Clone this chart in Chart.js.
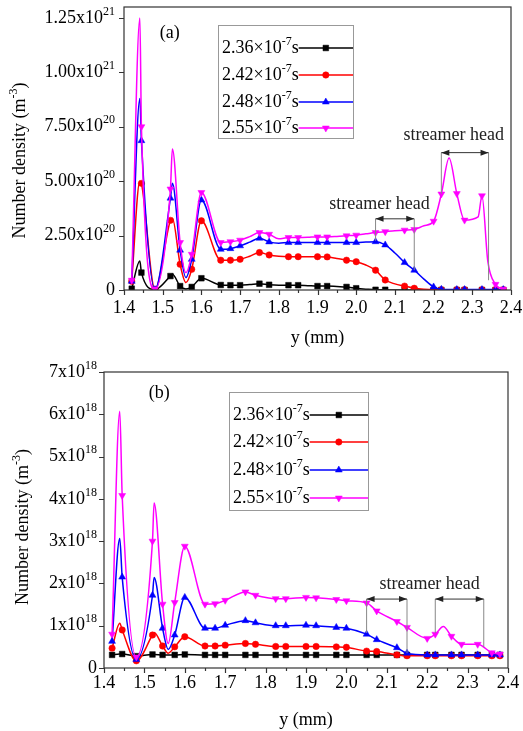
<!DOCTYPE html>
<html><head><meta charset="utf-8">
<script src="https://cdn.jsdelivr.net/npm/chart.js@4.4.1/dist/chart.umd.min.js"></script>
<style>
html,body{margin:0;padding:0;background:#fff;}
canvas{position:absolute;left:0;}
#ca{top:0;}
#cb{top:355px;}
</style></head><body>
<canvas id="ca" width="523" height="352"></canvas>
<canvas id="cb" width="523" height="376"></canvas>
<script>
// ---------------- DATA ----------------
const seriesNames = ['2.36×10^{-7}s','2.42×10^{-7}s','2.48×10^{-7}s','2.55×10^{-7}s'];
const xTicks = [1.4,1.5,1.6,1.7,1.8,1.9,2.0,2.1,2.2,2.3,2.4];
const xTitle = 'y (mm)';
const yTitle = 'Number density (m^{-3})';

// Panel (a): number density in units of 1e20 m^-3
const xA = [1.42,1.441,1.445,1.48,1.52,1.525,1.545,1.56,1.575,1.60,1.65,1.675,1.70,1.725,1.75,1.775,1.80,1.825,1.85,1.875,1.90,1.925,1.95,1.975,2.00,2.025,2.05,2.075,2.10,2.125,2.15,2.175,2.20,2.22,2.24,2.26,2.28,2.315,2.325,2.34,2.36,2.38];
const markA = [1,0,1,1,1,0,1,0,1,1,1,1,1,0,1,1,0,1,1,0,1,1,0,1,1,0,1,1,0,1,1,0,1,1,0,1,1,0,1,0,1,1];
const a236 = [0.06,1.33,0.80,0.02,0.64,0.72,0.18,0.05,0.14,0.54,0.23,0.22,0.22,0.25,0.29,0.24,0.22,0.22,0.22,0.20,0.18,0.18,0.16,0.14,0.08,0.04,0.01,0.01,0,0,0,0,0,0,0,0,0,0,0,0,0,0];
const a242 = [0.40,5.0,4.9,0.02,3.20,3.3,1.18,0.34,0.95,3.18,1.37,1.37,1.41,1.55,1.72,1.61,1.55,1.53,1.53,1.53,1.53,1.52,1.45,1.37,1.30,1.15,0.91,0.46,0.28,0.18,0.08,0.03,0.01,0.01,0.01,0.01,0.01,0.01,0.01,0.01,0.01,0.01];
const a248 = [0.40,8.8,6.86,0.02,4.22,4.9,1.83,0.57,1.41,4.13,1.87,1.90,2.03,2.2,2.38,2.21,2.15,2.18,2.18,2.18,2.18,2.18,2.18,2.18,2.18,2.2,2.22,2.07,1.7,1.26,0.91,0.5,0.14,0.03,0.02,0.02,0.02,0.02,0.02,0.02,0.02,0.02];
const a255 = [0.45,12.5,7.5,0.05,4.64,6.48,2.18,0.8,1.64,4.48,2.18,2.22,2.29,2.45,2.64,2.56,2.35,2.41,2.41,2.42,2.44,2.44,2.46,2.49,2.52,2.58,2.64,2.68,2.72,2.75,2.78,2.95,3.16,4.41,6.06,4.43,3.21,3.36,4.33,1.33,0.26,0.03];
const yTicksA = [0,2.5,5,7.5,10,12.5];
const yTickLabelsA = ['0','2.50x10^{20}','5.00x10^{20}','7.50x10^{20}','1.00x10^{21}','1.25x10^{21}'];

// Panel (b): number density in units of 1e18 m^-3
const xB = [1.42,1.439,1.445,1.48,1.52,1.524,1.545,1.559,1.575,1.60,1.65,1.675,1.70,1.75,1.775,1.825,1.85,1.90,1.925,1.975,2.00,2.05,2.075,2.125,2.15,2.20,2.22,2.24,2.26,2.285,2.325,2.36,2.38];
const markB = [1,0,1,1,1,0,1,0,1,1,1,1,1,1,1,1,1,1,1,1,1,1,1,1,1,1,1,0,1,1,1,1,1];
const b236 = [0.31,0.33,0.33,0.28,0.32,0.32,0.31,0.31,0.31,0.32,0.31,0.31,0.31,0.31,0.31,0.31,0.31,0.31,0.31,0.31,0.31,0.31,0.31,0.31,0.31,0.31,0.31,0.31,0.31,0.31,0.31,0.31,0.31];
const b242 = [0.47,1.06,0.90,0.17,0.78,0.84,0.52,0.35,0.50,0.74,0.52,0.52,0.54,0.58,0.56,0.51,0.51,0.51,0.51,0.50,0.49,0.40,0.39,0.31,0.29,0.29,0.29,0.29,0.29,0.29,0.29,0.29,0.29];
const b248 = [0.63,3.06,2.15,0.2,1.72,2.14,0.94,0.44,0.78,1.67,0.94,0.94,1.01,1.12,1.07,1.0,1.0,1.01,1.0,0.96,0.94,0.80,0.67,0.48,0.35,0.31,0.31,0.31,0.31,0.31,0.31,0.31,0.31];
const b255 = [0.8,6.07,4.08,0.26,3.0,3.9,1.51,0.58,1.55,2.88,1.51,1.52,1.6,1.8,1.72,1.64,1.64,1.67,1.66,1.62,1.59,1.54,1.35,1.1,0.96,0.7,0.8,0.98,0.75,0.56,0.56,0.36,0.33];
const yTicksB = [0,1,2,3,4,5,6,7];
const yTickLabelsB = ['0','1x10^{18}','2x10^{18}','3x10^{18}','4x10^{18}','5x10^{18}','6x10^{18}','7x10^{18}'];

const annotA = [
  {x0:2.05, x1:2.15, y:3.27, d0:2.26, d1:0.91, label:'streamer head', lx:2.06, ly:3.96},
  {x0:2.22, x1:2.342, y:6.31, d0:4.42, d1:0.45, label:'streamer head', lx:2.252, ly:7.09}
];
const annotB = [
  {x0:2.05, x1:2.15, y:1.63, d0:0.83, d1:0.35, label:'streamer head', lx:2.206, ly:1.98},
  {x0:2.22, x1:2.34, y:1.63, d0:0.83, d1:0.5, label:null}
];

// ---------------- STYLE ----------------
const FONT = '"Liberation Serif","Times New Roman","DejaVu Serif",serif';
const FS = 18;
const colors = ['#000000','#ff0000','#0000ff','#ff00ff'];
const pStyles = ['rect','circle','triangle','triangle'];
const pRot = [0,0,0,180];
const pRad = [4,3.2,4,4];

function richParts(s) {
  const parts = []; const re = /\^\{([^}]*)\}/g; let last = 0, m;
  while ((m = re.exec(s))) {
    if (m.index > last) parts.push({t: s.slice(last, m.index), sup: false});
    parts.push({t: m[1], sup: true}); last = re.lastIndex;
  }
  if (last < s.length) parts.push({t: s.slice(last), sup: false});
  return parts;
}
function drawRich(ctx, s, x, y, align, size) {
  const parts = richParts(s);
  const ss = Math.round(size * 0.65);
  const widths = parts.map(p => { ctx.font = (p.sup ? ss : size) + 'px ' + FONT; return ctx.measureText(p.t).width; });
  const total = widths.reduce((a, b) => a + b, 0);
  let cx = align === 'right' ? x - total : (align === 'center' ? x - total / 2 : x);
  ctx.textAlign = 'left'; ctx.textBaseline = 'middle';
  parts.forEach((p, i) => {
    ctx.font = (p.sup ? ss : size) + 'px ' + FONT;
    ctx.fillText(p.t, cx, p.sup ? y - size * 0.36 : y);
    cx += widths[i];
  });
  return total;
}

function makeDatasets(xs, series, mask) {
  return series.map((vals,i)=>({
    label: seriesNames[i],
    data: xs.map((x,j)=>({x:x, y:vals[j]})),
    borderColor: colors[i],
    backgroundColor: colors[i],
    borderWidth: 1.5,
    pointStyle: pStyles[i],
    rotation: pRot[i],
    pointRadius: mask.map(m=> m ? pRad[i] : 0),
    pointBorderWidth: 0.5,
    pointBackgroundColor: colors[i],
    pointBorderColor: colors[i],
    cubicInterpolationMode: 'monotone',
    order: 4 - i
  }));
}

function makeDeco(L) {
  return {
    id: 'deco',
    afterDatasetsDraw(chart) {
      const ctx = chart.ctx, ca = chart.chartArea, x = chart.scales.x, y = chart.scales.y;
      ctx.save();
      // frame
      ctx.strokeStyle = '#333'; ctx.lineWidth = 1.2;
      ctx.strokeRect(ca.left, ca.top, ca.right - ca.left, ca.bottom - ca.top);
      // ticks
      ctx.beginPath();
      xTicks.forEach((v,i)=>{
        const px = Math.round(x.getPixelForValue(v))+0.5;
        ctx.moveTo(px, ca.bottom); ctx.lineTo(px, ca.bottom + 5);
        if (i < xTicks.length-1) {
          const pm = Math.round(x.getPixelForValue(v + 0.05))+0.5;
          ctx.moveTo(pm, ca.bottom); ctx.lineTo(pm, ca.bottom + 3);
        }
      });
      L.yTicks.forEach(v=>{
        const py = Math.round(y.getPixelForValue(v))+0.5;
        ctx.moveTo(ca.left - 5, py); ctx.lineTo(ca.left, py);
      });
      ctx.stroke();
      // tick labels
      ctx.fillStyle = '#000';
      ctx.font = FS + 'px ' + FONT; ctx.textAlign = 'center'; ctx.textBaseline = 'middle';
      xTicks.forEach(v=>{ ctx.fillText(v.toFixed(1), x.getPixelForValue(v), ca.bottom + L.xLabDy); });
      L.yTicks.forEach((v,i)=>{ drawRich(ctx, L.yLabels[i], ca.left - L.yLabDx, y.getPixelForValue(v), 'right', FS); });
      // annotations
      ctx.font = FS + 'px ' + FONT;
      L.annot.forEach(a=>{
        const X0 = x.getPixelForValue(a.x0), X1 = x.getPixelForValue(a.x1), Y = y.getPixelForValue(a.y);
        ctx.strokeStyle = '#888'; ctx.lineWidth = 1;
        ctx.beginPath();
        ctx.moveTo(X0, Y); ctx.lineTo(X0, y.getPixelForValue(a.d0));
        ctx.moveTo(X1, Y); ctx.lineTo(X1, y.getPixelForValue(a.d1));
        ctx.stroke();
        ctx.strokeStyle = '#333'; ctx.beginPath();
        ctx.moveTo(X0, Y); ctx.lineTo(X1, Y); ctx.stroke();
        ctx.fillStyle = '#222';
        ctx.beginPath();
        ctx.moveTo(X0, Y); ctx.lineTo(X0 + 8, Y - 3); ctx.lineTo(X0 + 8, Y + 3); ctx.closePath();
        ctx.moveTo(X1, Y); ctx.lineTo(X1 - 8, Y - 3); ctx.lineTo(X1 - 8, Y + 3); ctx.closePath();
        ctx.fill();
        if (a.label) {
          ctx.textAlign = 'center'; ctx.textBaseline = 'middle';
          ctx.fillText(a.label, x.getPixelForValue(a.lx), y.getPixelForValue(a.ly));
        }
      });
      // panel label
      ctx.fillStyle = '#000'; ctx.textAlign = 'center'; ctx.textBaseline = 'middle';
      ctx.fillText(L.panel, x.getPixelForValue(L.panelX), y.getPixelForValue(L.panelY));
      // legend
      const bx0 = ca.left + L.leg.dx0, bx1 = ca.left + L.leg.dx1, by0 = ca.top + L.leg.dy0, by1 = ca.top + L.leg.dy1;
      ctx.fillStyle = '#fff';
      ctx.fillRect(bx0, by0, bx1 - bx0, by1 - by0);
      ctx.strokeStyle = '#999'; ctx.lineWidth = 1;
      ctx.strokeRect(bx0 + 0.5, by0 + 0.5, bx1 - bx0, by1 - by0);
      L.leg.rows.forEach((r,i)=>{
        const ry = ca.top + r, tx = ca.left + L.leg.tx;
        ctx.fillStyle = '#000';
        const tw = drawRich(ctx, seriesNames[i], tx, ry, 'left', FS);
        ctx.strokeStyle = colors[i]; ctx.lineWidth = 1.5;
        ctx.beginPath(); ctx.moveTo(tx + tw, ry); ctx.lineTo(bx1, ry); ctx.stroke();
        ctx.fillStyle = colors[i]; ctx.lineWidth = 0.5;
        Chart.helpers.drawPoint(ctx, {pointStyle: pStyles[i], rotation: pRot[i], radius: pRad[i], borderWidth: 0.5}, (tx + tw + bx1)/2, ry);
      });
      // axis titles
      ctx.fillStyle = '#000';
      ctx.font = FS + 'px ' + FONT; ctx.textAlign = 'center'; ctx.textBaseline = 'middle';
      ctx.fillText(xTitle, (ca.left + ca.right)/2, L.xTitleY);
      ctx.save();
      ctx.translate(L.yTitleX, (ca.top + ca.bottom)/2 + L.yTitleDy);
      ctx.rotate(-Math.PI/2);
      drawRich(ctx, yTitle, 0, 0, 'center', FS);
      ctx.restore();
      ctx.restore();
    }
  };
}

function makeChart(canvasId, xs, series, mask, L) {
  return new Chart(document.getElementById(canvasId), {
    type: 'line',
    data: { datasets: makeDatasets(xs, series, mask) },
    options: {
      responsive: false, animation: false, devicePixelRatio: 1,
      layout: { padding: { left: 0, right: L.padRight, top: L.padTop, bottom: 0 } },
      plugins: { legend: { display: false }, tooltip: { enabled: false } },
      scales: {
        x: {
          type: 'linear', min: 1.4, max: 2.4,
          afterBuildTicks: s => { s.ticks = xTicks.map(v=>({value:v})); },
          afterFit: s => { s.height = L.xHeight; },
          grid: { display: false, drawTicks: false, tickLength: 0 },
          border: { display: false },
          ticks: { display: false }
        },
        y: {
          type: 'linear', min: 0, max: L.yMax,
          afterBuildTicks: s => { s.ticks = L.yTicks.map(v=>({value:v})); },
          afterFit: s => { s.width = L.yWidth; },
          grid: { display: false, drawTicks: false, tickLength: 0 },
          border: { display: false },
          ticks: { display: false }
        }
      }
    },
    plugins: [makeDeco(L)]
  });
}

makeChart('ca', xA, [a236,a242,a248,a255], markA, {
  padRight: 12, padTop: 7, xHeight: 62, yWidth: 124, yMax: 13,
  yTicks: yTicksA, yLabels: yTickLabelsA, xLabDy: 18, yLabDx: 9,
  annot: annotA, panel: '(a)', panelX: 1.518, panelY: 11.8,
  leg: { dx0: 94, dx1: 229, dy0: 18, dy1: 131, tx: 98, rows: [41, 68, 95, 121] },
  xTitleY: 338, yTitleX: 20, yTitleDy: 12
});
makeChart('cb', xB, [b236,b242,b248,b255], markB, {
  padRight: 15, padTop: 17, xHeight: 63, yWidth: 104, yMax: 7,
  yTicks: yTicksB, yLabels: yTickLabelsB, xLabDy: 15, yLabDx: 7,
  annot: annotB, panel: '(b)', panelX: 1.537, panelY: 6.49,
  leg: { dx0: 125, dx1: 264, dy0: 20, dy1: 138, tx: 129, rows: [43, 70, 98, 126] },
  xTitleY: 365, yTitleX: 23, yTitleDy: 7
});
</script>
</body></html>
